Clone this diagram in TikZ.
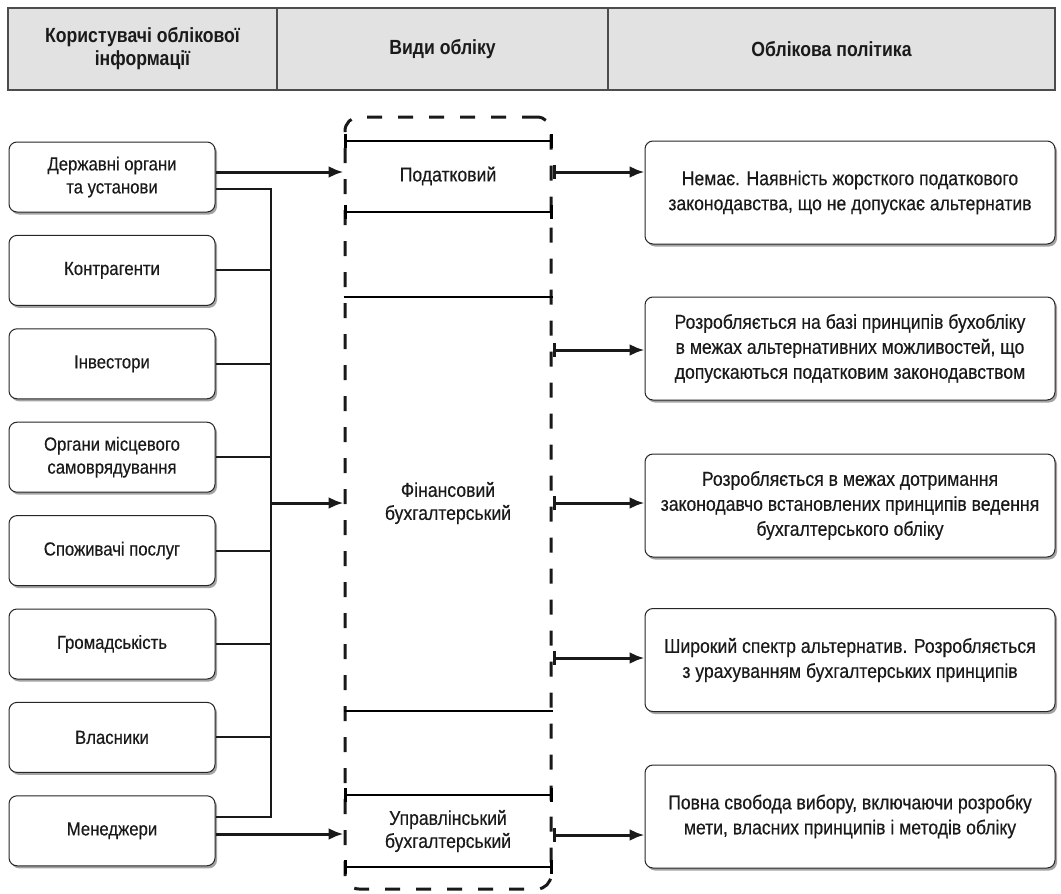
\documentclass[tikz,border=0pt]{standalone}
\usepackage{fontspec}
\setmainfont{Liberation Sans}[FakeStretch=0.9]
\newfontfamily\bodyfont{Liberation Sans}[FakeStretch=0.88,FakeBold=0.35]
\newfontfamily\hdrfont{Liberation Sans}[FakeStretch=0.86]
\usetikzlibrary{arrows.meta,shadows,calc}
\definecolor{txt}{HTML}{1A1A1A}
\definecolor{hdrfill}{HTML}{E2E2E2}
\begin{document}
\begin{tikzpicture}[x=1pt,y=-1pt,
  hdr/.style={draw=black!70, line width=1.3pt, fill=hdrfill, minimum height=82pt, inner sep=0pt, align=center,
    font=\hdrfont\fontsize{20.5}{23}\selectfont\bfseries, text=txt},
  lbox/.style={draw=black!85, line width=1pt, rounded corners=8pt, fill=white, minimum width=206pt, minimum height=70pt,
    align=center, inner sep=0pt, font=\bodyfont\fontsize{19}{23}\selectfont, text=txt,
    drop shadow={shadow xshift=2pt, shadow yshift=-2.5pt, fill=black!45, opacity=0.8}},
  rbox/.style={draw=black!85, line width=1pt, rounded corners=8pt, fill=white, minimum width=410pt, minimum height=103pt,
    align=center, inner sep=0pt, font=\bodyfont\fontsize{20}{25}\selectfont, text=txt,
    drop shadow={shadow xshift=2pt, shadow yshift=-2.5pt, fill=black!45, opacity=0.8}},
  mtext/.style={align=center, inner sep=0pt, font=\bodyfont\fontsize{20}{23}\selectfont, text=txt},
  dashbox/.style={draw=black!90, line width=3pt, dash pattern=on 15pt off 16pt, rounded corners=14pt,
    minimum width=206pt, minimum height=772pt, inner sep=0pt},
  tickline/.style={line width=1.2pt, {Bar[width=14pt,line width=3pt]}-{Bar[width=14pt,line width=3pt]}},
  plainline/.style={line width=1.2pt},
  conn/.style={line width=2pt, draw=black!90},
  mainarrow/.style={line width=3pt, draw=black!90, -{Latex[length=15pt,width=12pt]}},
  rarrow/.style={line width=3pt, draw=black!90, {Bar[width=14pt,line width=3pt]}-{Latex[length=15pt,width=12pt]}}
]
\useasboundingbox (0,0) rectangle (1061,894);

% header
\node[hdr, minimum width=269pt] (h1) at (142.5,49) {Користувачі облікової\\інформації};
\node[hdr, minimum width=331pt] (h2) at (442.5,49) {Види обліку};
\node[hdr, minimum width=447pt] (h3) at (831.5,49) {Облікова політика};

% left boxes
\node[lbox] (l1) at (112,177) {Державні органи\\та установи};
\node[lbox] (l2) at (112,270.4) {Контрагенти};
\node[lbox] (l3) at (112,363.8) {Інвестори};
\node[lbox] (l4) at (112,457.2) {Органи місцевого\\самоврядування};
\node[lbox] (l5) at (112,550.6) {Споживачі послуг};
\node[lbox] (l6) at (112,644) {Громадськість};
\node[lbox] (l7) at (112,737.4) {Власники};
\node[lbox] (l8) at (112,830.8) {Менеджери};

% middle dashed box
\node[dashbox] (vb) at (448,503) {};
\node[mtext] (tax) at (448,176) {Податковий};
\node[mtext] (fin) at (448,503) {Фінансовий\\бухгалтерський};
\node[mtext] (mgm) at (448,831) {Управлінський\\бухгалтерський};

\draw[tickline] (vb.west |- 0,141) -- (vb.east |- 0,141);
\draw[tickline] (vb.west |- 0,212) -- (vb.east |- 0,212);
\draw[plainline] (vb.west |- 0,297) -- (vb.east |- 0,297);
\draw[plainline] (vb.west |- 0,711) -- (vb.east |- 0,711);
\draw[tickline] (vb.west |- 0,795) -- (vb.east |- 0,795);
\draw[tickline] (vb.west |- 0,867) -- (vb.east |- 0,867);

% right boxes
\node[rbox] (r1) at (850,192.5) {Немає. Наявність жорсткого податкового\\законодавства, що не допускає альтернатив};
\node[rbox] (r2) at (850,348.5) {Розробляється на базі принципів бухобліку\\в межах альтернативних можливостей, що\\допускаються податковим законодавством};
\node[rbox] (r3) at (850,505.5) {Розробляється в межах дотримання\\законодавчо встановлених принципів ведення\\бухгалтерського обліку};
\node[rbox] (r4) at (850,660) {Широкий спектр альтернатив. Розробляється\\з урахуванням бухгалтерських принципів};
\node[rbox] (r5) at (850,816.5) {Повна свобода вибору, включаючи розробку\\мети, власних принципів і методів обліку};

% coordinates for connector levels
\coordinate (ya) at (0,172);
\coordinate (b1) at (271,189);
\coordinate (b8) at (271,817);
\coordinate (ym) at (0,834);
\coordinate (q1) at (0,172);
\coordinate (q2) at (0,350);
\coordinate (q3) at (0,503);
\coordinate (q4) at (0,658);
\coordinate (q5) at (0,835);

% left connectors
\draw[mainarrow] (l1.east |- ya) -- (vb.west |- ya);
\draw[conn] (l1.east |- b1) -- (b1) -- (b8) -- (l8.east |- b8);
\draw[conn] (l2.east) -- (l2.east -| b1);
\draw[conn] (l3.east) -- (l3.east -| b1);
\draw[conn] (l4.east) -- (l4.east -| b1);
\draw[conn] (l5.east) -- (l5.east -| b1);
\draw[conn] (l6.east) -- (l6.east -| b1);
\draw[conn] (l7.east) -- (l7.east -| b1);
\draw[mainarrow] (fin.west -| b1) -- (fin.west -| vb.west);
\draw[mainarrow] (l8.east |- ym) -- (vb.west |- ym);

% right connectors
\draw[rarrow] (vb.east |- q1) -- (r1.west |- q1);
\draw[rarrow] (vb.east |- q2) -- (r2.west |- q2);
\draw[rarrow] (vb.east |- q3) -- (r3.west |- q3);
\draw[rarrow] (vb.east |- q4) -- (r4.west |- q4);
\draw[rarrow] (vb.east |- q5) -- (r5.west |- q5);
\end{tikzpicture}
\end{document}
